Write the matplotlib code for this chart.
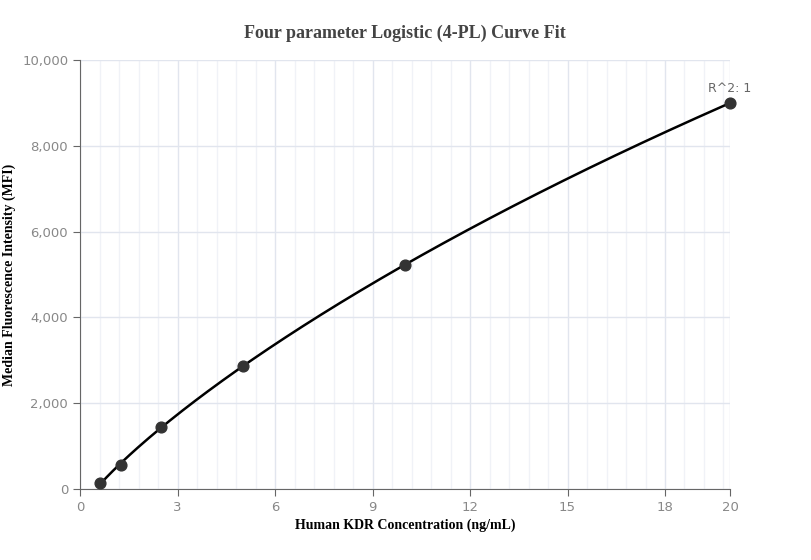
import numpy as np
import matplotlib.pyplot as plt
from matplotlib.ticker import MultipleLocator, FuncFormatter, FixedLocator

# standard concentrations (ng/mL) and measured MFI
conc = [0.625, 1.25, 2.5, 5, 10, 20]
mfi = [140, 560, 1445, 2867, 5220, 9000]
r2_label = "R^2: 1"

x_ticks = [0, 3, 6, 9, 12, 15, 18, 20]
y_ticks = [0, 2000, 4000, 6000, 8000, 10000]

# --- 4PL fit: y = D + (A - D) / (1 + (x/C)^B) ---
# grid over B, C; A and D come from linear least squares
xd = np.array(conc, dtype=float)
yd = np.array(mfi, dtype=float)
best = None
for B in np.linspace(0.5, 2.5, 201):
    for C in np.geomspace(2, 500, 300):
        f = 1.0 / (1.0 + (xd / C) ** B)
        M = np.column_stack([f, 1 - f])
        coef, *_ = np.linalg.lstsq(M, yd, rcond=None)
        err = np.sum((M @ coef - yd) ** 2)
        if best is None or err < best[0]:
            best = (err, B, C, coef[0], coef[1])
_, B, C, A, D = best

xs = np.linspace(min(conc), max(conc), 300)
ys = D + (A - D) / (1 + (xs / C) ** B)

fig = plt.figure(figsize=(8.11, 5.6), dpi=100)
ax = fig.add_axes([80 / 811, 71 / 560, 650 / 811, 429 / 560])

ax.plot(xs, ys, color='black', lw=1.8, zorder=3, clip_on=False)
ax.scatter(conc, mfi, s=60, color='#333333', zorder=4, clip_on=False)
ax.text(conc[-1], mfi[-1] + 180, r2_label, ha='center', va='bottom',
        fontsize=9, color='#666666', family='DejaVu Sans')

ax.set_xlim(0, 20)
ax.set_ylim(0, 10000)
ax.xaxis.set_major_locator(FixedLocator(x_ticks))
ax.xaxis.set_minor_locator(MultipleLocator(0.6))
ax.yaxis.set_major_locator(FixedLocator(y_ticks))
ax.yaxis.set_major_formatter(FuncFormatter(lambda v, p: f'{int(v):,}'))

ax.grid(True, which='major', color='#e1e5ee', lw=1)
ax.grid(True, which='minor', axis='x', color='#f0f2f7', lw=1)
ax.set_axisbelow(True)

for s in ['top', 'right']:
    ax.spines[s].set_visible(False)
for s in ['left', 'bottom']:
    ax.spines[s].set_color('#666666')
ax.tick_params(which='major', length=5, color='#666666', labelcolor='#888888',
               labelsize=9.5)
ax.tick_params(which='minor', length=0)

ax.set_title('Four parameter Logistic (4-PL) Curve Fit', family='Liberation Serif',
             fontweight='bold', fontsize=13, color='#444444', pad=16)
ax.set_xlabel('Human KDR Concentration (ng/mL)', family='Liberation Serif',
              fontweight='bold', fontsize=10)
ax.set_ylabel('Median Fluorescence Intensity (MFI)', family='Liberation Serif',
              fontweight='bold', fontsize=10)
ax.xaxis.set_label_coords(0.5, -30 / 429)
ax.yaxis.set_label_coords(-64 / 650, 0.5)

plt.savefig('out.png', dpi=100)
